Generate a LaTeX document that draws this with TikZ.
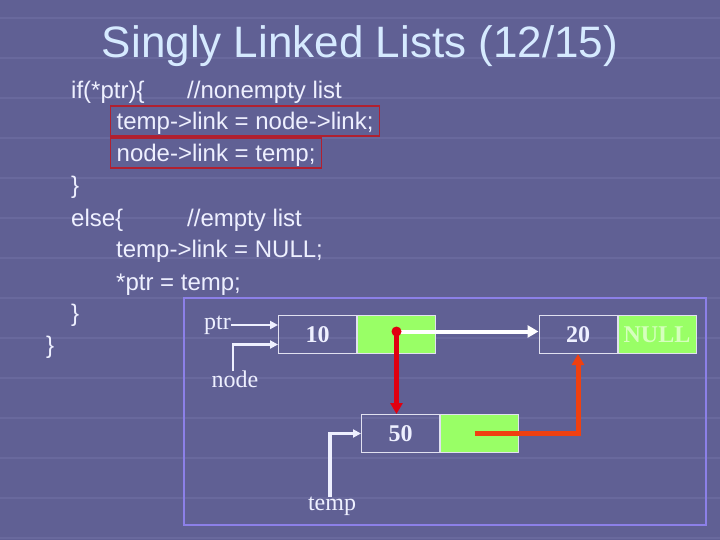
\documentclass[tikz,border=0pt]{standalone}
\usepackage{fontspec}
\setmainfont{Liberation Serif}
\setsansfont{Liberation Sans}
\usetikzlibrary{positioning,arrows.meta}
\definecolor{slide}{RGB}{96,96,148}
\definecolor{stripe}{RGB}{112,112,164}
\definecolor{titleblue}{RGB}{214,234,255}
\definecolor{codewhite}{RGB}{238,240,255}
\definecolor{hlred}{RGB}{176,32,48}
\definecolor{framevio}{RGB}{140,128,232}
\definecolor{cellgreen}{RGB}{153,255,102}
\definecolor{cellline}{RGB}{225,225,240}
\definecolor{nullgreen}{RGB}{214,255,190}
\definecolor{linkred}{RGB}{224,0,16}
\definecolor{linkorange}{RGB}{240,64,16}

\begin{document}
\begin{tikzpicture}[x=1pt,y=-1pt,
  codeln/.style={anchor=base west,inner sep=0pt,text=codewhite,font=\sffamily\fontsize{24}{28}\selectfont},
  hl/.style={draw=hlred,line width=1.4pt,inner xsep=6pt,inner ysep=0pt,text height=24pt,text depth=6pt},
  cell/.style={draw=cellline,line width=1pt,minimum width=78pt,minimum height=38pt,inner sep=0pt,text=codewhite,font=\bfseries\fontsize{24}{28}\selectfont},
  linkcell/.style={cell,fill=cellgreen,text=nullgreen},
  lbl/.style={inner sep=0pt,text=codewhite,font=\fontsize{24}{28}\selectfont},
  ptrln/.style={draw=codewhite,line width=2.2pt,-{Triangle[length=8pt,width=8pt]}},
  linkln/.style={line width=4.5pt,-{Triangle[length=11pt,width=12pt]}}]
  \useasboundingbox (0,0) rectangle (720,540);
  \fill[slide] (0,0) rectangle (720,540);
  \foreach \y in {18,58,...,538}
    \draw[stripe,line width=1.5pt,opacity=0.6] (0,\y) -- (720,\y);
  \node[anchor=base,inner sep=0pt,text=titleblue,font=\sffamily\fontsize{44}{50}\selectfont] (title) at (360,58) {Singly Linked Lists (12/15)};
  \node[codeln] (c1) at (71,99) {if(*ptr)\{};
  \node[codeln] (c1c) at (187,99) {//nonempty list};
  \node[codeln,hl] (c2) at (110,130) {temp->link = node->link;};
  \node[codeln,hl] (c3) at (110,162) {node->link = temp;};
  \node[codeln] (c4) at (71,194) {\}};
  \node[codeln] (c5) at (71,226) {else\{};
  \node[codeln] (c5c) at (187,226) {//empty list};
  \node[codeln] (c6) at (116,258) {temp->link = NULL;};
  \node[codeln] (c7) at (116,290) {*ptr = temp;};
  \node[codeln] (c8) at (71,321) {\}};
  \node[codeln] (c9) at (46,353) {\}};
  \draw[framevio,line width=1.5pt] (184,298) rectangle (706,525);
  \node[cell] (d10) at (317.5,334.5) {10};
  \node[linkcell,right=0pt of d10] (l10) {};
  \node[cell] (d20) at (578,334.5) {20};
  \node[linkcell,right=0pt of d20] (l20) {NULL};
  \node[cell] (d50) at (400.5,433.5) {50};
  \node[linkcell,right=0pt of d50] (l50) {};
  \node[lbl,anchor=east] (ptr) at (231,325) {ptr};
  \node[lbl,anchor=north] (nodelbl) at (235,371) {node};
  \node[lbl,anchor=north] (templbl) at (332,497) {temp};
  \draw[ptrln] (ptr.east) -- (ptr.east -| d10.west);
  \draw[ptrln] ([xshift=-2pt]nodelbl.north) |- ([yshift=-10pt]d10.west);
  \draw[ptrln,line width=3.5pt] ([xshift=-2pt]templbl.north) |- (d50.west);
  \coordinate (dot) at ([yshift=3pt]l10.center);
  \draw[linkln,white,line width=4pt] (dot) -- (dot -| d20.west);
  \draw[linkln,linkred] (dot) -- (dot |- d50.north);
  \draw[linkln,linkorange,line width=5pt] ([xshift=-5pt]l50.center) -| (d20.south);
  \fill[linkred] (dot) circle (5pt);
\end{tikzpicture}
\end{document}
